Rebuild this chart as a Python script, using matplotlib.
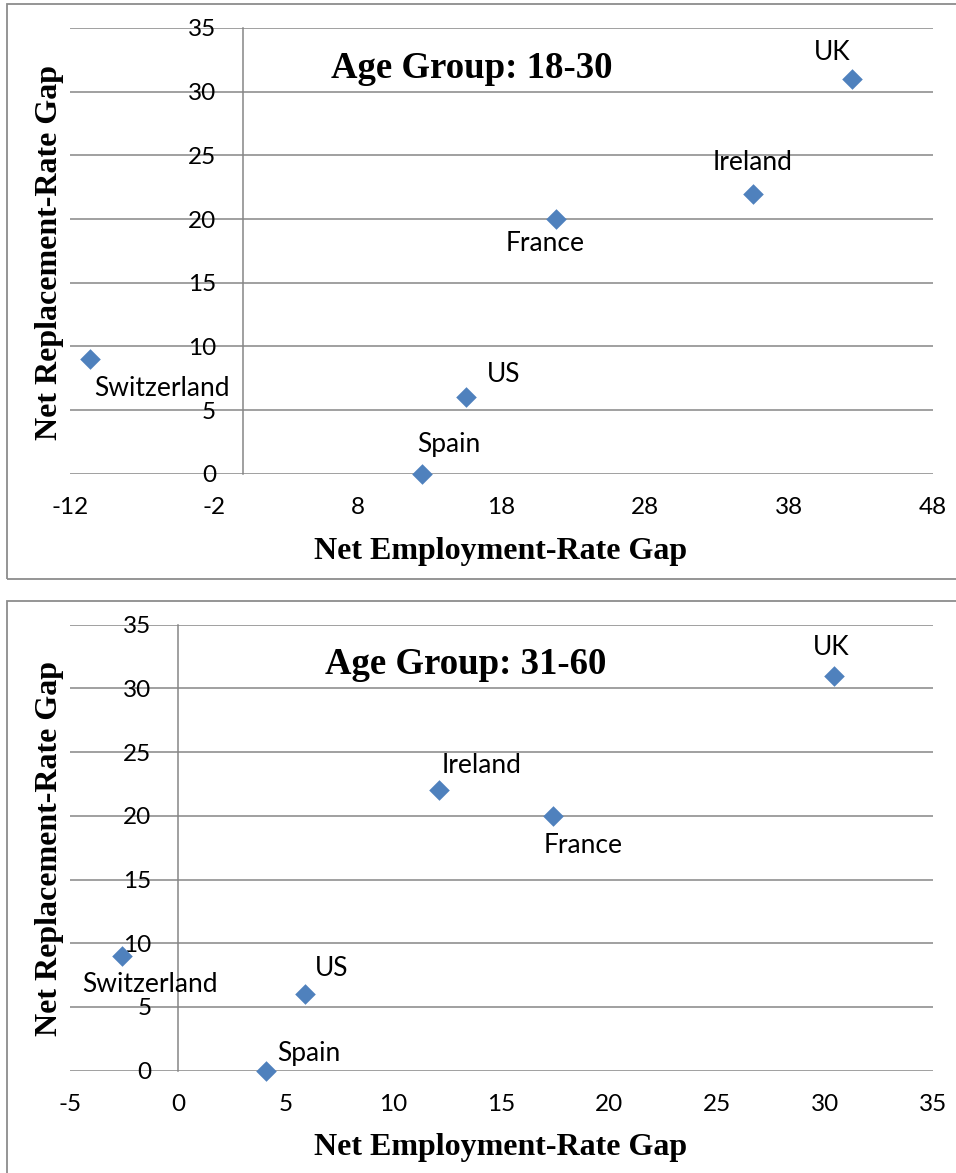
import matplotlib
matplotlib.use("Agg")
import matplotlib.pyplot as plt
from matplotlib.patches import Rectangle

plt.rcParams["axes.unicode_minus"] = False

# Data: net employment-rate gap (x) vs net replacement-rate gap (y)
countries = ["UK", "Ireland", "France", "Switzerland", "US", "Spain"]
emp_gap_18_30 = [42.4, 35.5, 21.8, -10.6, 15.5, 12.5]
rep_gap_18_30 = [31, 22, 20, 9, 6, 0]
emp_gap_31_60 = [30.4, 12.1, 17.4, -2.6, 5.9, 4.1]
rep_gap_31_60 = [31, 22, 20, 9, 6, 0]

xticks_18_30 = [-12, -2, 8, 18, 28, 38, 48]
xticks_31_60 = [-5, 0, 5, 10, 15, 20, 25, 30, 35]
yticks = [0, 5, 10, 15, 20, 25, 30, 35]

titles = ["Age Group: 18-30", "Age Group: 31-60"]
xlabel = "Net Employment-Rate Gap"
ylabel = "Net Replacement-Rate Gap"

# Label offsets (pixels) relative to each marker
offsets_top = {"UK": (-20, 26), "Ireland": (-1, 31), "France": (-11, -24),
               "Switzerland": (72, -29), "US": (38, 23), "Spain": (26, 29)}
offsets_bot = {"UK": (-3, 28), "Ireland": (43, 25), "France": (30, -30),
               "Switzerland": (28, -28), "US": (26, 26), "Spain": (42, 17)}

W, H = 956, 1173
fig = plt.figure(figsize=(W / 100, H / 100), dpi=100)

GRID = "#868686"
MARK = "#4F81BD"
SANS = ["Lato", "DejaVu Sans"]
SERIF = ["Liberation Serif", "DejaVu Serif"]


def fx(px):
    return px / W


def fy(py):
    return 1 - py / H


def panel(rect_px, xs, ys, xticks, title, title_pos, offsets):
    l, t, r, b = rect_px
    ax = fig.add_axes([fx(l), fy(b), fx(r) - fx(l), fy(t) - fy(b)])
    ax.set_xlim(xticks[0], xticks[-1])
    ax.set_ylim(0, 35)
    ax.set_xticks(xticks)
    ax.set_yticks(yticks)
    for s in ["top", "right", "bottom"]:
        ax.spines[s].set_visible(False)
    ax.spines["left"].set_position(("data", 0))
    ax.spines["left"].set_color(GRID)
    ax.spines["left"].set_linewidth(1.1)
    ax.grid(axis="y", color=GRID, linewidth=1.1)
    ax.set_axisbelow(True)
    ax.tick_params(axis="both", length=0, labelsize=17.5)
    ax.tick_params(axis="y", pad=19)
    ax.tick_params(axis="x", pad=17)
    for lab in ax.get_xticklabels() + ax.get_yticklabels():
        lab.set_family(SANS)
    ax.scatter(xs, ys, marker="D", s=110, color=MARK, zorder=3, clip_on=False,
               linewidths=0)
    for name, x, y in zip(countries, xs, ys):
        dx, dy = offsets[name]
        ax.annotate(name, (x, y), xytext=(dx * 0.72, dy * 0.72),
                    textcoords="offset points", ha="center", va="center",
                    fontsize=19, family=SANS, zorder=4)
    ax.text(title_pos[0], title_pos[1], title, transform=ax.transAxes,
            ha="center", va="center", fontsize=26.5, fontweight="bold",
            family=SERIF)
    return ax


panel((70, 28, 933, 473.7), emp_gap_18_30, rep_gap_18_30, xticks_18_30,
      titles[0], (0.466, 0.91), offsets_top)
panel((70, 624.7, 933, 1070.7), emp_gap_31_60, rep_gap_31_60, xticks_31_60,
      titles[1], (0.458, 0.91), offsets_bot)

# Axis titles
for yc_x, yc_y in [(552, 252), (1148, 848)]:
    fig.text(fx(501), fy(yc_x), xlabel, ha="center", va="center",
             fontsize=23, fontweight="bold", family=SERIF)
    fig.text(fx(50), fy(yc_y), ylabel, ha="center", va="center",
             rotation=90, fontsize=23, fontweight="bold", family=SERIF)

# Chart frames
FRAME = "#8c8c8c"
fig.add_artist(Rectangle((fx(7), fy(579)), fx(1000) - fx(7), fy(4) - fy(579),
                         transform=fig.transFigure, fill=False,
                         edgecolor=FRAME, linewidth=1.3, clip_on=False))
fig.add_artist(Rectangle((fx(7), fy(1200)), fx(1000) - fx(7), fy(601) - fy(1200),
                         transform=fig.transFigure, fill=False,
                         edgecolor=FRAME, linewidth=1.3, clip_on=False))

fig.savefig("out.png", dpi=100)
